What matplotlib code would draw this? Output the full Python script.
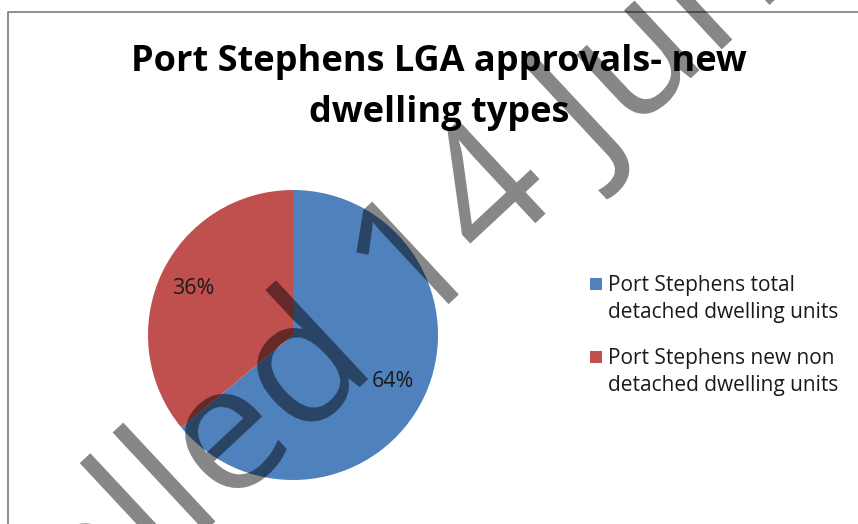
import matplotlib
matplotlib.use('Agg')
import matplotlib.pyplot as plt
from matplotlib.patches import Rectangle, PathPatch
from matplotlib.textpath import TextPath
from matplotlib.font_manager import FontProperties
from matplotlib.lines import Line2D
from matplotlib.transforms import Affine2D

# ---- data ----
title_lines = ["Port Stephens LGA approvals- new", "dwelling types"]
categories = ["Port Stephens total\ndetached dwelling units",
              "Port Stephens new non\ndetached dwelling units"]
shares = [64, 36]
colors = ["#4F81BD", "#C0504D"]
watermark = "Cancelled 14 June 2013"

W, H = 858, 524
fig = plt.figure(figsize=(W / 100, H / 100), dpi=100)
fig.patch.set_facecolor('white')

# frame of the chart area
fig.add_artist(Line2D([8 / W, 8 / W, 1.01], [-0.01, 1 - 12 / H, 1 - 12 / H],
                      transform=fig.transFigure, color='#878787', lw=1.3))

# title
for i, line in enumerate(title_lines):
    fig.text(439 / W, 1 - (71 + 51 * i) / H, line, ha='center', va='baseline',
             fontsize=26, fontweight='bold', family='Open Sans', color='black')

# pie
cx, cy, r = 293, 335, 145
ax = fig.add_axes([(cx - r) / W, (H - cy - r) / H, 2 * r / W, 2 * r / H])
ax.pie(shares, colors=colors, startangle=90, counterclock=False,
       autopct='%1.0f%%', pctdistance=0.76, radius=1,
       wedgeprops=dict(linewidth=0),
       textprops=dict(fontsize=15.5, family='Open Sans', color='#1a1a1a'))
ax.set_xlim(-1, 1)
ax.set_ylim(-1, 1)
ax.set_aspect('equal')

# legend
sq_tops = [278, 351]
for i, (lab, col) in enumerate(zip(categories, colors)):
    top = sq_tops[i]
    fig.add_artist(Rectangle((590 / W, 1 - (top + 12) / H), 12 / W, 12 / H,
                             transform=fig.transFigure, color=col, lw=0))
    for j, part in enumerate(lab.split("\n")):
        fig.text(608 / W, 1 - (top + 13 + 27 * j) / H, part, ha='left',
                 va='baseline', fontsize=15, family='Open Sans', color='#1a1a1a')

# watermark
fp = FontProperties(family='Open Sans', weight='normal')
size = 178
tp_full = TextPath((0, 0), watermark, size=size, prop=fp)
tp_pre = TextPath((0, 0), "Cancelled 1", size=size, prop=fp)
stem_x = tp_pre.get_extents().x1 - 0.045 * size
aff = Affine2D().translate(-stem_x, 0).rotate_deg(43).translate(453, H - 300)
patch = PathPatch(tp_full, transform=aff, facecolor='black', edgecolor='none',
                  alpha=0.47, zorder=10)
fig.add_artist(patch)

fig.savefig('out.png', dpi=100, facecolor='white')
